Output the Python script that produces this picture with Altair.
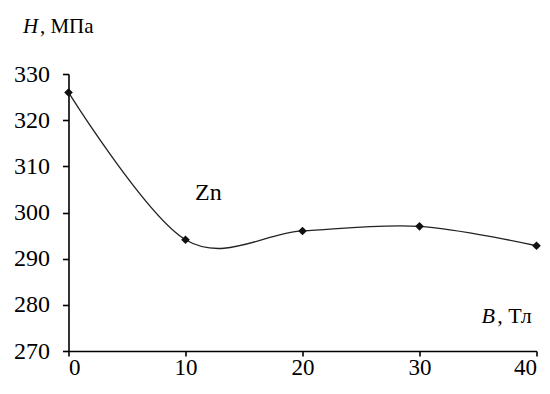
import altair as alt
import pandas as pd

# data
B_vals = [0, 10, 20, 30, 40]
H_vals = [326.0, 294.1, 296.0, 297.0, 292.8]
x_ticks = [0, 10, 20, 30, 40]
y_ticks = [270, 280, 290, 300, 310, 320, 330]

# annotations: text, x (data), y (data), style, font size
ann_text = ["H", ", МПа", "Zn", "B", ", Тл"]
ann_x = [-3.89, -2.44, 10.81, 35.3, 36.65]
ann_y = [338.9, 338.9, 302.7, 276.07, 276.07]
ann_style = ["italic", "normal", "normal", "italic", "normal"]
ann_size = [21, 21, 24, 22, 22]

FONT = "Liberation Serif"

df = pd.DataFrame({"B": B_vals, "H": H_vals})

xs = alt.Scale(domain=[0, 40], nice=False, zero=False)
ys = alt.Scale(domain=[270, 330], nice=False, zero=False)

x_axis = alt.Axis(values=x_ticks, title=None, grid=False, tickSize=5, labelPadding=0,
                  labelFont=FONT, labelFontSize=23, labelColor="#000",
                  domainColor="#000", tickColor="#000", domainWidth=1.6, tickWidth=1.6)
y_axis = alt.Axis(values=y_ticks, title=None, grid=False, tickSize=6, labelPadding=13,
                  labelFont=FONT, labelFontSize=24, labelColor="#000",
                  domainColor="#000", tickColor="#000", domainWidth=1.6, tickWidth=1.6)

line = alt.Chart(df).mark_line(interpolate="cardinal", color="#222", strokeWidth=1.3).encode(
    x=alt.X("B:Q", scale=xs, axis=x_axis),
    y=alt.Y("H:Q", scale=ys, axis=y_axis),
)

pts = alt.Chart(df).mark_point(shape="diamond", filled=True, size=75, color="#111", opacity=1).encode(
    x=alt.X("B:Q", scale=xs),
    y=alt.Y("H:Q", scale=ys),
)

layers = [line, pts]
for t, xv, yv, st, sz in zip(ann_text, ann_x, ann_y, ann_style, ann_size):
    d = pd.DataFrame({"t": [t], "x": [xv], "y": [yv]})
    layers.append(
        alt.Chart(d).mark_text(align="left", baseline="alphabetic", font=FONT,
                               fontStyle=st, fontSize=sz, color="#000").encode(
            x=alt.X("x:Q", scale=xs),
            y=alt.Y("y:Q", scale=ys),
            text="t:N",
        )
    )

chart = alt.layer(*layers).properties(
    width=468, height=277,
    background="white",
    autosize=alt.AutoSizeParams(type="none"),
    padding={"left": 60.5, "top": 66, "right": 5.5, "bottom": 27},
).configure(font=FONT).configure_view(stroke=None).configure_axis(labelFont=FONT).configure_text(font=FONT)

chart.save("out.html", embed_options={"renderer": "svg", "actions": False})
